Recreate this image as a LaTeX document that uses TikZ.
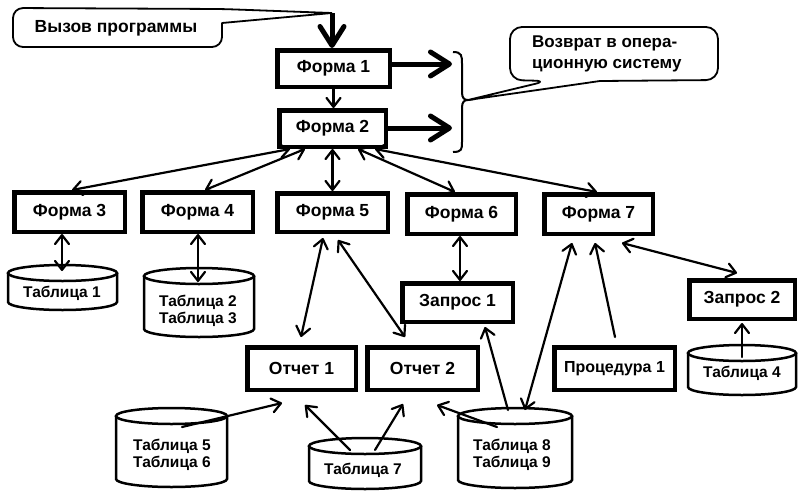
\documentclass[tikz,border=0pt]{standalone}
\usepackage{fontspec}
\setmainfont{Liberation Sans}
\usetikzlibrary{arrows.meta,calc}
\tikzset{
  bb/.tip={Straight Barb[length=9pt,width=14pt,round]},
  BB/.tip={Straight Barb[length=19pt,width=24pt,round]},
  lbl/.style={font=\bfseries\fontsize{15.5}{17}\selectfont, inner sep=0pt, align=center},
  box/.style={lbl, font=\bfseries\fontsize{17.5}{19}\selectfont, draw, line width=4.5pt, outer sep=2.25pt},
  cylline/.style={line width=2.5pt},
  con/.style={line width=2.2pt, line cap=round},
  dbl/.style={con, bb-bb},
  one/.style={con, -bb},
  thickarrow/.style={line width=5pt, -BB},
  callout/.style={line width=1.8pt, line join=round}
}
\newcommand{\dbcyl}[5]{%
  \draw[cylline] (#2-#5,#3+8) -- (#2-#5,#4-8) arc[start angle=180,end angle=360,x radius=#5pt,y radius=8pt] -- (#2+#5,#3+8);
  \draw[cylline] (#2,#3+8) ellipse[x radius=#5pt,y radius=8pt];
  \node[inner sep=0pt, minimum width=2*#5pt, minimum height=#4pt-#3pt, anchor=north] (#1) at (#2,#3) {};}
\begin{document}
\begin{tikzpicture}[x=1pt,y=-1pt]
\useasboundingbox (0,0) rectangle (801,491);
\fill[white] (0,0) rectangle (801,491);

% boxes
\node[box, minimum width=112.5pt, minimum height=36.5pt] (f1) at (333.5,68.5) {Форма 1};
\node[box, minimum width=106.5pt, minimum height=36.5pt] (f2) at (332.5,128.5) {Форма 2};
\node[box, minimum width=110.5pt, minimum height=39.5pt] (f3) at (69.5,212) {Форма 3};
\node[box, minimum width=110.5pt, minimum height=39.5pt] (f4) at (197.5,212) {Форма 4};
\node[box, minimum width=110.5pt, minimum height=38.5pt] (f5) at (332.5,212.5) {Форма 5};
\node[box, minimum width=108.5pt, minimum height=39.5pt] (f6) at (461.5,214) {Форма 6};
\node[box, minimum width=108.5pt, minimum height=39.5pt] (f7) at (598.5,214) {Форма 7};
\node[box, minimum width=110.5pt, minimum height=38.5pt] (z1) at (457.5,302.5) {Запрос 1};
\node[box, minimum width=105.5pt, minimum height=38.5pt] (z2) at (742,299.5) {Запрос 2};
\node[box, minimum width=108.5pt, minimum height=42.5pt] (o1) at (301.5,368.5) {Отчет 1};
\node[box, minimum width=110.5pt, minimum height=42.5pt] (o2) at (422.5,368.5) {Отчет 2};
\node[box, font=\bfseries\fontsize{16}{18}\selectfont, minimum width=120.5pt, minimum height=42.5pt] (p1) at (614.5,368.5) {Процедура 1};

% cylinders
\dbcyl{c1}{62.5}{265}{310}{54.5}
\dbcyl{c2}{199}{268}{337}{55}
\dbcyl{c4}{742}{345}{395}{54}
\dbcyl{c5}{171.5}{408}{487}{55.5}
\dbcyl{c7}{365}{438}{489}{56}
\dbcyl{c8}{515}{408}{488}{57}
\node[lbl] (t1) at (62,293) {Таблица 1};
\node[lbl] (t2) at (198,311) {Таблица 2\\Таблица 3};
\node[lbl] (t4) at (742,373) {Таблица 4};
\node[lbl] (t5) at (172,455) {Таблица 5\\Таблица 6};
\node[lbl] (t7) at (363,470) {Таблица 7};
\node[lbl] (t8) at (512,455) {Таблица 8\\Таблица 9};

% callout "Вызов программы"
\coordinate (vt) at (332,13);
\draw[callout] (vt) -- (222,23) [rounded corners=10pt] -- (222,47) -- (13,47) -- (13,8) -- (222,9) [sharp corners] -- (vt);
\node[lbl, font=\bfseries\fontsize{17.5}{19}\selectfont] (vyz) at (116,28) {Вызов программы};
\draw[thickarrow] (vt) -- ($(f1.north)+(-1.5,0)$);

% callout "Возврат"
\coordinate (bt) at (468,100);
\draw[callout] (bt) -- (600,81) [rounded corners=12pt] -- (718,80) -- (718,27) -- (510,27) -- (510,80) -- (547,81) [sharp corners] -- (bt);
\node[lbl, align=left, anchor=west, font=\bfseries\fontsize{17}{21.5}\selectfont] (voz) at (532,54) {Возврат в опера-\\ционную систему};
\draw[line width=2pt] (453,52) .. controls (462,52) and (462,56) .. (462,64) -- (462,92) .. controls (462,98) and (464,100) .. (bt) .. controls (464,100) and (462,102) .. (462,108) -- (462,142) .. controls (462,149) and (462,152) .. (453,152);
\coordinate (a1) at (452,64);
\coordinate (a2) at (452,128);
\draw[thickarrow] (f1.east |- a1) -- (a1);
\draw[thickarrow] (f2.east |- a2) -- (a2);

% connectors
\draw[one] (f1.south) -- (f1.south |- f2.north);
\draw[dbl] ($(f2.south)+(-42.5,0)$) -- ($(f3.north)+(2.5,0)$);
\draw[dbl] ($(f2.south)+(-27.5,0)$) -- ($(f4.north)+(7.5,0)$);
\draw[dbl] (f2.south) -- (f5.north);
\draw[dbl] ($(f2.south)+(25.5,0)$) -- ($(f6.north)+(-6.5,0)$);
\draw[dbl] ($(f2.south)+(42.5,0)$) -- ($(f7.north)+(-1.5,0)$);
\draw[dbl] ($(f3.south)+(-7.5,0)$) -- ($(c1.north)+(-0.5,6)$);
\draw[dbl] ($(f4.south)+(0.5,0)$) -- ($(c2.north)+(-1,14)$);
\draw[dbl] ($(f6.south)+(-1.5,0)$) -- ($(z1.north)+(2.5,0)$);
\draw[dbl] ($(f5.south)+(-9.5,4)$) -- ($(o1.north)+(-0.5,-8)$);
\draw[dbl] ($(f5.south)+(5.5,6)$) -- ($(o2.north)+(-17.5,-8)$);
\draw[one] ($(c8.north)+(-7,2)$) -- ($(z1.south)+(27.5,3)$);
\draw[dbl] ($(f7.south)+(-26.5,7)$) -- ($(c8.north)+(10,2)$);
\draw[one] ($(p1.north)+(0.5,-8)$) -- ($(f7.south)+(-3.5,7)$);
\draw[dbl] ($(f7.south)+(23.5,7)$) -- ($(z2.north)+(-5,-5)$);
\draw[one] ($(c4.north)+(0,12)$) -- ($(z2.south)+(0,2)$);
\draw[one] ($(c5.north)+(10.5,19)$) -- ($(o1.south)+(-19.5,11)$);
\draw[one] ($(c7.north)+(-15,12)$) -- ($(o1.south)+(3.5,13)$);
\draw[one] ($(c7.north)+(10,12)$) -- ($(o2.south)+(-19.5,12)$);
\draw[one] ($(c8.north)+(-18,19)$) -- ($(o2.south)+(14.5,13)$);
\end{tikzpicture}
\end{document}
